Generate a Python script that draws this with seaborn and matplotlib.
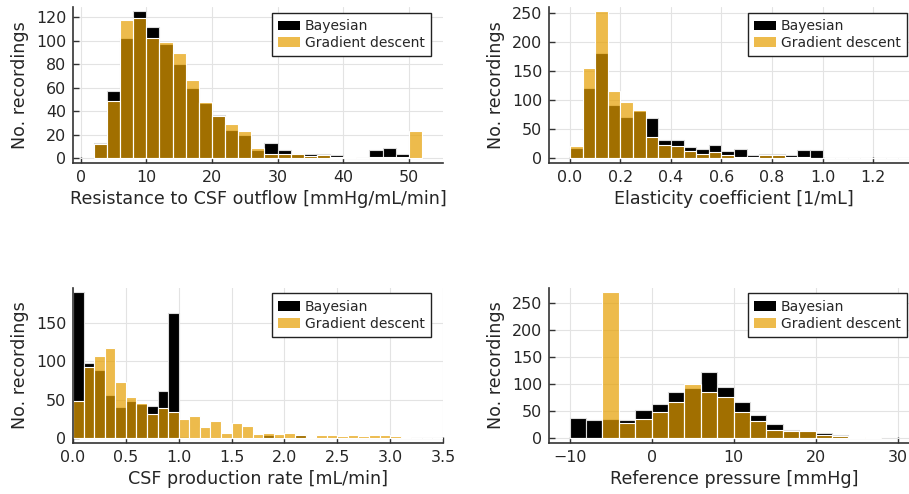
import numpy as np
import pandas as pd
import matplotlib
matplotlib.use("Agg")
import matplotlib.pyplot as plt
from matplotlib.patches import Patch
import seaborn as sns

# ---------------- data ----------------
# Panel 1: resistance to CSF outflow, bins of 2 from 2 to 52
R_EDGES = np.arange(2, 54, 2)
R_BAYES = [13, 57, 102, 125, 112, 97, 80, 60, 47, 37, 24, 20, 7, 13, 7, 4, 4, 4, 3, 0, 0, 7, 9, 4, 0]
R_GD = [12, 49, 118, 119, 102, 99, 90, 67, 48, 36, 29, 23, 9, 4, 4, 4, 2, 3, 1, 1, 0, 1, 1, 1, 23]

# Panel 2: elasticity coefficient, bins of 0.05 from 0 to 1.35
E_EDGES = np.round(np.arange(0, 1.351, 0.05), 3)
E_BAYES = [18, 121, 181, 91, 71, 82, 69, 31, 32, 19, 16, 22, 12, 16, 5, 8, 7, 5, 14, 14,
           0, 0, 0, 0, 0, 0, 0]
E_GD = [21, 155, 252, 115, 96, 83, 36, 22, 21, 13, 7, 10, 5, 3, 3, 6, 5, 3, 2, 1,
        1, 0, 1, 0, 0, 1, 0]

# Panel 3: CSF production rate, bins of 0.1 from 0 to 3.5
P_EDGES = np.round(np.arange(0, 3.501, 0.1), 3)
P_BAYES = [190, 98, 89, 56, 40, 48, 45, 42, 61, 162, 2, 0, 0, 0, 0, 0, 0, 0, 4, 2,
           0, 4, 0, 0, 0, 0, 0, 0, 0, 0, 0, 0, 0, 0, 0]
P_GD = [48, 93, 107, 117, 73, 54, 46, 31, 39, 34, 25, 29, 15, 22, 7, 20, 16, 6, 7, 6,
        7, 4, 2, 4, 4, 3, 4, 3, 4, 4, 3, 2, 1, 0, 0]

# Panel 4: reference pressure, bins of 2 from -10 to 28
Q_EDGES = np.arange(-10, 30, 2)
Q_BAYES = [38, 33, 36, 33, 52, 64, 86, 92, 122, 94, 67, 43, 27, 15, 13, 9, 7, 0, 0]
Q_GD = [0, 1, 270, 28, 35, 48, 67, 100, 86, 77, 48, 32, 15, 13, 14, 6, 4, 3, 3]

XLABELS = ["Resistance to CSF outflow [mmHg/mL/min]", "Elasticity coefficient [1/mL]",
           "CSF production rate [mL/min]", "Reference pressure [mmHg]"]
YLABEL = "No. recordings"
SERIES = ["Bayesian", "Gradient descent"]

BLACK = "#000000"
ORANGE = "#E69F00"

# ---------------- style ----------------
sns.set_style("white")
plt.rcParams["font.family"] = ["DejaVu Sans"]

W, H = 909, 494
fig = plt.figure(figsize=(W / 100, H / 100), dpi=100)


def box(l, t, w, b):
    return [l / W, 1 - b / H, w / W, (b - t) / H]


panels = [
    dict(rect=box(73, 7, 370, 162.7), edges=R_EDGES, bay=R_BAYES, gd=R_GD,
         xlim=(-1.17, 55.2), ylim=(-3.75, 128.75), xticks=[0, 10, 20, 30, 40, 50],
         xtl=["0", "10", "20", "30", "40", "50"], yticks=[0, 20, 40, 60, 80, 100, 120]),
    dict(rect=box(549, 7, 370, 162.7), edges=E_EDGES, bay=E_BAYES, gd=E_GD,
         xlim=(-0.083, 1.382), ylim=(-7.56, 259.6), xticks=[0, 0.2, 0.4, 0.6, 0.8, 1.0, 1.2],
         xtl=["0.0", "0.2", "0.4", "0.6", "0.8", "1.0", "1.2"], yticks=[0, 50, 100, 150, 200, 250]),
    dict(rect=box(73, 287.5, 370, 442.7), edges=P_EDGES, bay=P_BAYES, gd=P_GD,
         xlim=(0, 3.5), ylim=(-5.7, 195.7), xticks=[0, 0.5, 1.0, 1.5, 2.0, 2.5, 3.0, 3.5],
         xtl=["0.0", "0.5", "1.0", "1.5", "2.0", "2.5", "3.0", "3.5"], yticks=[0, 50, 100, 150]),
    dict(rect=box(549, 287.5, 370, 442.7), edges=Q_EDGES, bay=Q_BAYES, gd=Q_GD,
         xlim=(-12.5, 32.6), ylim=(-8.1, 278.1), xticks=[-10, 0, 10, 20, 30],
         xtl=["−10", "0", "10", "20", "30"], yticks=[0, 50, 100, 150, 200, 250]),
]

for p, xl in zip(panels, XLABELS):
    ax = fig.add_axes(p["rect"])
    edges = [float(e) for e in p["edges"]]
    centers = [(a + b) / 2 for a, b in zip(edges[:-1], edges[1:])]
    df_b = pd.DataFrame({"value": centers, "count": [float(v) for v in p["bay"]]})
    df_g = pd.DataFrame({"value": centers, "count": [float(v) for v in p["gd"]]})
    sns.histplot(data=df_b, x="value", weights="count", bins=edges, color=BLACK, alpha=1.0,
                 edgecolor="#dcdcdc", linewidth=0.8, ax=ax)
    sns.histplot(data=df_g, x="value", weights="count", bins=edges, color=ORANGE, alpha=0.7,
                 edgecolor="white", linewidth=0.8, ax=ax)
    ax.set_xlim(*p["xlim"])
    ax.set_ylim(*p["ylim"])
    ax.set_xticks(p["xticks"])
    ax.set_xticklabels(p["xtl"])
    ax.set_yticks(p["yticks"])
    ax.set_axisbelow(True)
    ax.grid(True, color="#e3e3e3", linewidth=0.8)
    for s in ["top", "right"]:
        ax.spines[s].set_visible(False)
    for s in ["left", "bottom"]:
        ax.spines[s].set_color("#333333")
        ax.spines[s].set_linewidth(1.2)
    ax.tick_params(direction="in", length=4, width=1, color="#333333",
                   labelsize=11.4, pad=5, left=True, bottom=True)
    ax.set_xlabel(xl, fontsize=12.6, labelpad=3.5)
    ax.set_ylabel(YLABEL, fontsize=12.6, labelpad=5)
    handles = [Patch(facecolor=BLACK, edgecolor="none"),
               Patch(facecolor=ORANGE, alpha=0.7, edgecolor="none")]
    leg = ax.legend(handles, SERIES, loc="upper right", bbox_to_anchor=(0.9676, 0.9615),
                    borderaxespad=0, fontsize=10, frameon=True, fancybox=False,
                    framealpha=1, edgecolor="#222222", handlelength=1.6,
                    handleheight=0.7, handletextpad=0.35, labelspacing=0.2,
                    borderpad=0.45)
    leg.get_frame().set_linewidth(1.0)

fig.savefig("out.png", dpi=100)
